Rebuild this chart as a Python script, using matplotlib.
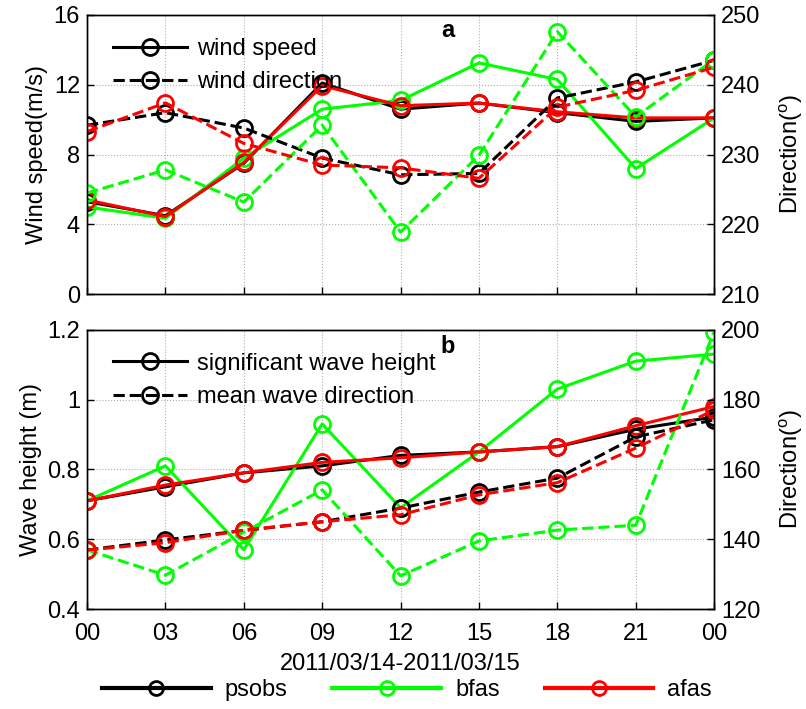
import matplotlib
matplotlib.use("Agg")
import matplotlib.pyplot as plt
from matplotlib.lines import Line2D

plt.rcParams['font.family'] = ['Liberation Sans', 'DejaVu Sans']
plt.rcParams['mathtext.fontset'] = 'custom'
plt.rcParams['mathtext.rm'] = 'Liberation Sans'

hours = [0, 1, 2, 3, 4, 5, 6, 7, 8]
hour_labels = ['00', '03', '06', '09', '12', '15', '18', '21', '00']

# Panel a: wind speed (m/s) and wind direction (deg)
ws_psobs = [5.3, 4.5, 7.5, 12.1, 10.6, 10.95, 10.4, 9.9, 10.1]
ws_bfas = [5.0, 4.35, 7.8, 10.6, 11.1, 13.25, 12.3, 7.2, 10.1]
ws_afas = [5.4, 4.45, 7.55, 11.95, 10.8, 10.95, 10.45, 10.1, 10.1]
wd_psobs = [234.2, 236.0, 233.8, 229.5, 227.1, 227.3, 238.1, 240.4, 243.5]
wd_bfas = [224.5, 227.8, 223.2, 234.2, 218.9, 229.9, 247.6, 235.4, 243.6]
wd_afas = [233.3, 237.4, 231.6, 228.5, 228.1, 226.6, 236.8, 239.2, 242.5]

# Panel b: significant wave height (m) and mean wave direction (deg)
hs_psobs = [0.71, 0.75, 0.79, 0.81, 0.84, 0.85, 0.865, 0.915, 0.95]
hs_bfas = [0.71, 0.81, 0.57, 0.93, 0.69, 0.85, 1.03, 1.11, 1.13]
hs_afas = [0.71, 0.755, 0.79, 0.82, 0.833, 0.85, 0.865, 0.925, 0.98]
md_psobs = [136.9, 139.8, 142.5, 145.0, 148.9, 153.5, 157.5, 169.3, 174.2]
md_bfas = [136.9, 129.7, 142.0, 154.1, 129.5, 139.5, 142.6, 144.0, 199.4]
md_afas = [136.9, 139.0, 142.6, 145.0, 147.0, 152.7, 156.2, 166.1, 177.0]

colors = {'psobs': '#000000', 'bfas': '#00ff00', 'afas': '#ff0000'}
lw = 2.2
mk = dict(marker='o', markersize=11.5, markerfacecolor='none', markeredgewidth=2.0)

fig = plt.figure(figsize=(8.06, 7.09), dpi=100)
ax_a = fig.add_axes([0.108, 0.585, 0.778, 0.394])
ax_b = fig.add_axes([0.108, 0.141, 0.778, 0.394])
ax_a2 = ax_a.twinx()
ax_b2 = ax_b.twinx()

series_a = [(ws_psobs, wd_psobs, 'psobs'), (ws_bfas, wd_bfas, 'bfas'), (ws_afas, wd_afas, 'afas')]
series_b = [(hs_psobs, md_psobs, 'psobs'), (hs_bfas, md_bfas, 'bfas'), (hs_afas, md_afas, 'afas')]

for s, d, name in series_a:
    ax_a.plot(hours, s, '-', color=colors[name], lw=lw, **mk)
    ax_a2.plot(hours, d, '--', color=colors[name], lw=lw, **mk)
for s, d, name in series_b:
    ax_b.plot(hours, s, '-', color=colors[name], lw=lw, **mk)
    ax_b2.plot(hours, d, '--', color=colors[name], lw=lw, **mk)

fs = 17

def style(ax, ax2, ylim, yticks, ylim2, yticks2, ylabel, show_x):
    ax.set_xlim(0, 8)
    ax.set_ylim(*ylim)
    ax.set_yticks(yticks)
    ax2.set_ylim(*ylim2)
    ax2.set_yticks(yticks2)
    ax.set_xticks(hours)
    if show_x:
        ax.set_xticklabels(hour_labels)
    else:
        ax.set_xticklabels([])
    ax.grid(True, color='#b0b0b0', linestyle=':', linewidth=0.8)
    for a in (ax, ax2):
        a.tick_params(direction='in', labelsize=fs, length=5, width=1)
        for sp in a.spines.values():
            sp.set_linewidth(1.0)
    ax.tick_params(axis='x', pad=10)
    ax.tick_params(axis='y', pad=5)
    ax2.tick_params(axis='y', pad=5)
    ax.set_ylabel(ylabel, fontsize=fs, labelpad=4)
    ax2.set_ylabel(r'Direction($^{\mathrm{o}}$)', fontsize=fs, labelpad=12)

style(ax_a, ax_a2, (0, 16), [0, 4, 8, 12, 16], (210, 250), [210, 220, 230, 240, 250],
      'Wind speed(m/s)', False)
style(ax_b, ax_b2, (0.4, 1.2), [0.4, 0.6, 0.8, 1.0, 1.2], (120, 200), [120, 140, 160, 180, 200],
      'Wave height (m)', True)
ax_b.set_yticklabels(['0.4', '0.6', '0.8', '1', '1.2'])
ax_b.set_xlabel('2011/03/14-2011/03/15', fontsize=fs, labelpad=6)

def key_handles():
    solid = Line2D([], [], color='k', ls='-', lw=lw, **mk)
    dashed = Line2D([], [], color='k', ls='--', lw=lw, **mk)
    return solid, dashed

legend_kw = dict(loc='upper left', bbox_to_anchor=(0.042, 0.918), frameon=False,
                 fontsize=fs, handlelength=3.1, numpoints=1, handletextpad=0.45,
                 labelspacing=0.48, borderaxespad=0.0, borderpad=0.0)
h1, h2 = key_handles()
ax_a2.legend([h1, h2], ['wind speed', 'wind direction'], **legend_kw)
h1, h2 = key_handles()
ax_b2.legend([h1, h2], ['significant wave height', 'mean wave direction'], **legend_kw)

ax_a2.text(0.575, 0.945, 'a', transform=ax_a2.transAxes, fontsize=fs,
           fontweight='bold', ha='center', va='center')
ax_b2.text(0.575, 0.94, 'b', transform=ax_b2.transAxes, fontsize=fs,
           fontweight='bold', ha='center', va='center')

mk_small = dict(marker='o', markersize=10, markerfacecolor='none', markeredgewidth=2.0)
fig_handles = [Line2D([], [], color=colors[n], ls='-', lw=3, **mk_small)
               for n in ('psobs', 'bfas', 'afas')]
fig.legend(fig_handles, ['psobs', 'bfas', 'afas'], loc='center',
           bbox_to_anchor=(0.505, 0.027), ncol=3, frameon=False, fontsize=fs,
           handlelength=4.6, numpoints=1, columnspacing=1.9, handletextpad=0.6)

fig.savefig('out.png', dpi=100)
